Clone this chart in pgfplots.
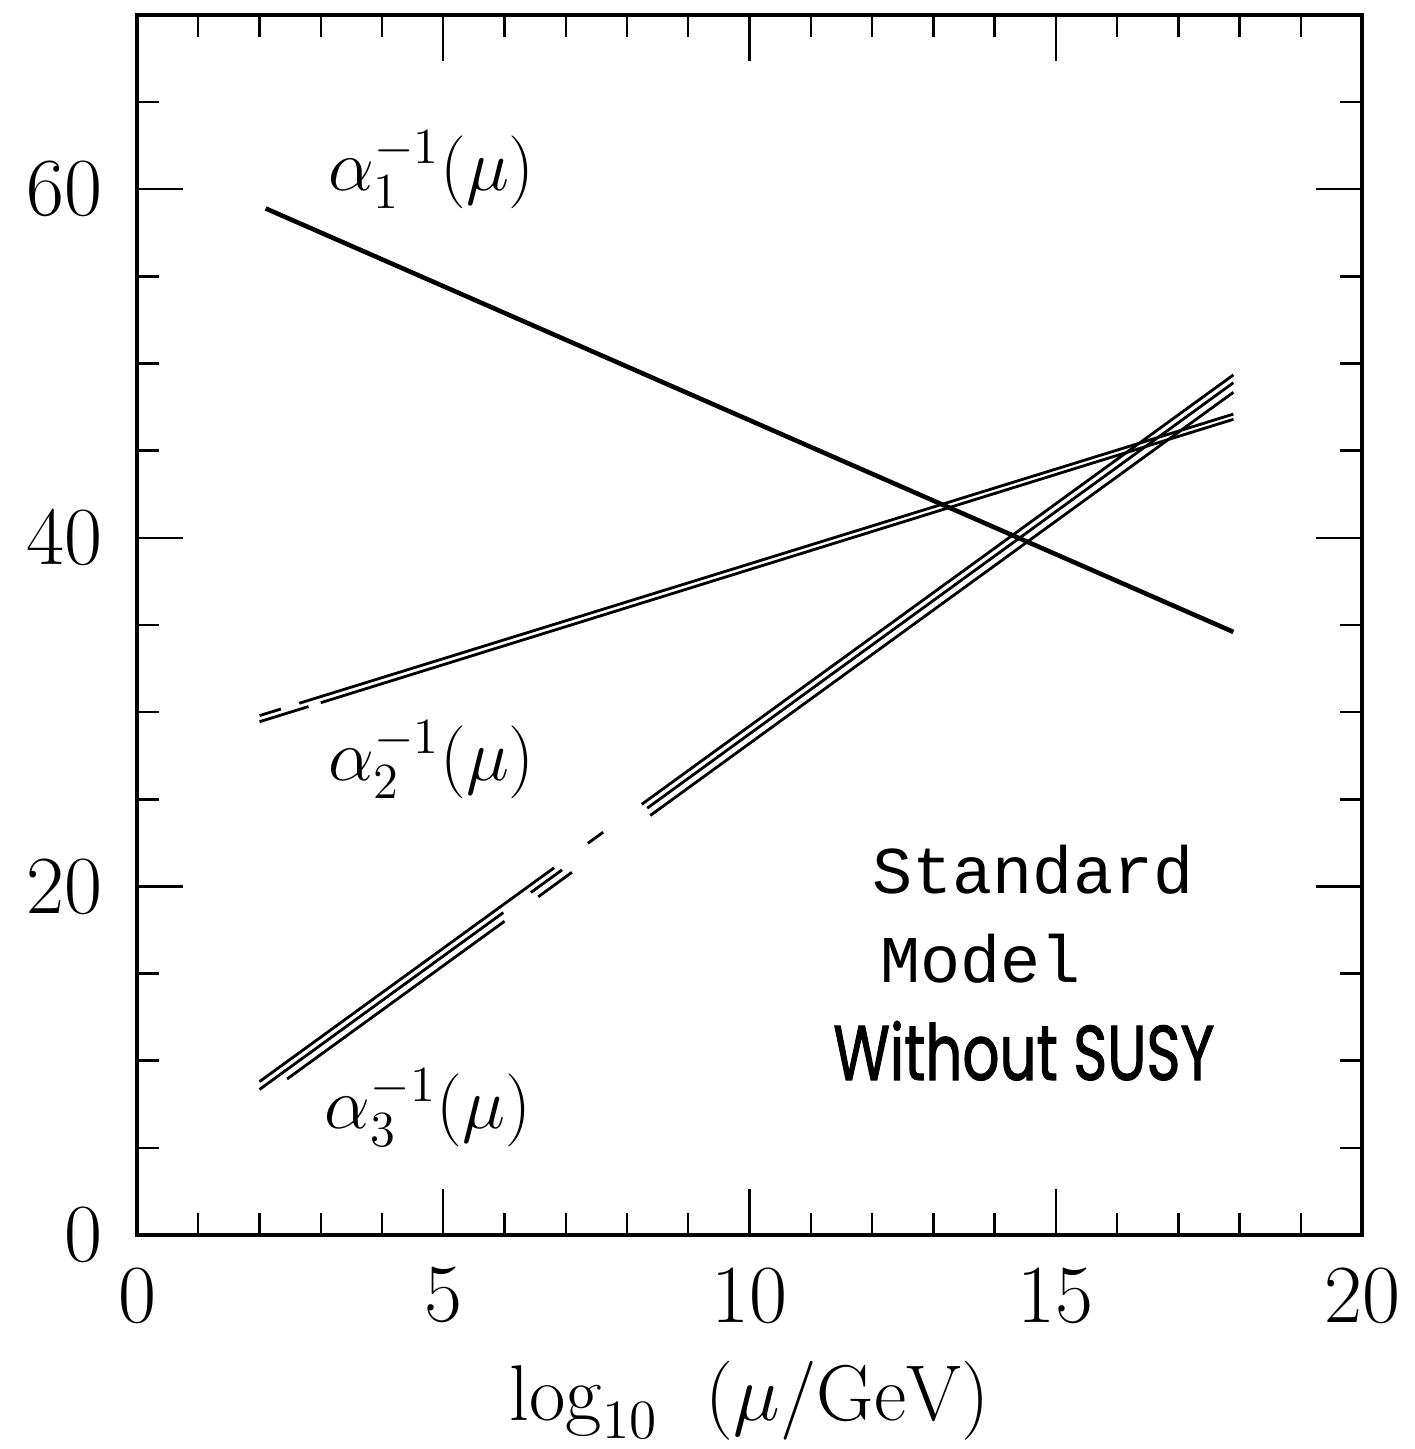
\documentclass[border=0pt]{standalone}
\usepackage{fix-cm}
\usepackage{pgfplots}
\pgfplotsset{compat=1.18}
\usepackage{fontspec}
\newfontfamily\courier{Liberation Mono}
\newfontfamily\hand[FakeBold=1.6]{Poppins}

\begin{document}
\begin{tikzpicture}
\begin{axis}[
    scale only axis,
    width=12.25cm, height=12.2cm,
    xmin=0, xmax=20, ymin=0, ymax=70,
    xtick={0,5,10,15,20},
    minor xtick={1,2,3,4,6,7,8,9,11,12,13,14,16,17,18,19},
    ytick={0,20,40,60},
    minor ytick={5,10,15,25,30,35,45,50,55,65},
    major tick length=0.46cm, minor tick length=0.22cm,
    tick align=inside, xtick pos=both, ytick pos=both,
    axis line style={line width=0.9pt},
    tick style={black, line width=0.7pt},
    /pgf/number format/assume math mode=true,
    tick label style={font=\fontsize{23.5}{27}\selectfont},
    xticklabel style={yshift=-0.2cm},
    yticklabel style={xshift=-0.22cm},
    xlabel={$\log_{10}\ \ (\mu/\mathrm{GeV})$},
    xlabel style={at={(axis description cs:0.5,0)}, anchor=base, yshift=-1.85cm,
                  font=\fontsize{22.5}{26}\selectfont},
    unbounded coords=jump,
    clip=false,
]
% alpha_1^{-1}
\addplot[black, line width=1.3pt] coordinates {(2.1,58.9) (17.9,34.6)};
% alpha_2^{-1} (two lines)
\addplot[black, line width=0.8pt] coordinates {(2.0,29.8) (2.35,30.18) (2.5,nan) (2.65,30.51) (17.9,47.1)};
\addplot[black, line width=0.8pt] coordinates {(2.0,29.45) (2.8,30.32) (2.9,nan) (3.0,30.54) (17.9,46.8)};
% alpha_3^{-1} (three lines)
\addplot[black, line width=0.8pt] coordinates {(2.0,8.8) (6.81,21.07) (7.0,nan) (7.36,22.47) (7.61,23.11) (7.8,nan) (8.24,24.71) (17.9,49.35)};
\addplot[black, line width=0.8pt] coordinates {(2.0,8.35) (5.98,18.50) (6.2,nan) (6.43,19.65) (6.94,20.95) (7.5,nan) (8.33,24.49) (17.9,48.9)};
\addplot[black, line width=0.8pt] coordinates {(2.45,8.95) (6.0,18.0) (6.3,nan) (6.55,19.40) (7.10,20.81) (7.5,nan) (8.38,24.07) (17.9,48.35)};

\node[anchor=base, font=\fontsize{20.74}{24}\selectfont] at (axis cs:4.81,59.95) {$\alpha_1^{-1}(\mu)$};
\node[anchor=base, font=\fontsize{20.74}{24}\selectfont] at (axis cs:4.81,26.1) {$\alpha_2^{-1}(\mu)$};
\node[anchor=base, font=\fontsize{20.74}{24}\selectfont] at (axis cs:4.75,6.13) {$\alpha_3^{-1}(\mu)$};
\node[anchor=base west, inner sep=0pt, font=\courier\fontsize{19}{22}\selectfont] at (axis cs:12.0,19.6) {Standard};
\node[anchor=base west, inner sep=0pt, font=\courier\fontsize{19}{22}\selectfont] at (axis cs:12.13,14.5) {Model};
\node[anchor=base west, inner sep=0pt, xscale=0.75, font=\hand\fontsize{22}{26}\selectfont] at (axis cs:11.36,8.9) {Without SUSY};

\coordinate (sw) at (rel axis cs:0,0);
\coordinate (ne) at (rel axis cs:1,1);
\end{axis}
\path (sw) ++(-1.37cm,-2.14cm) coordinate (bl);
\path (ne) ++(0.52cm,0.15cm) coordinate (tr);
\pgfresetboundingbox
\path (bl) rectangle (tr);
\end{tikzpicture}
\end{document}
